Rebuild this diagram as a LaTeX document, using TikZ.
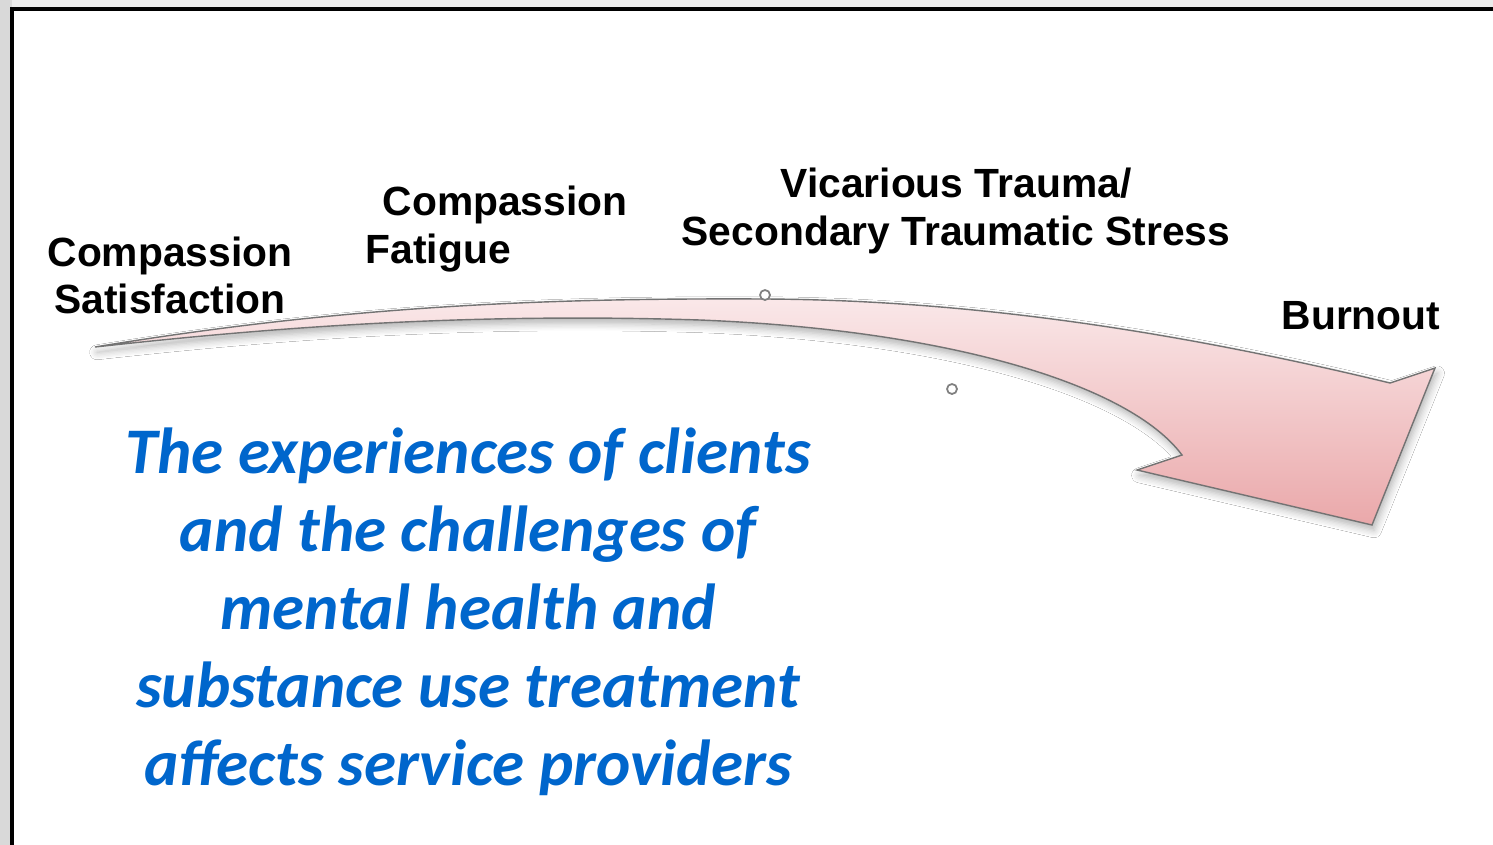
\documentclass[tikz,border=0pt]{standalone}
\usepackage{fontspec}
\setmainfont{Liberation Sans}
\newfontfamily\calibri{Carlito}
\usetikzlibrary{positioning, shadows.blur}

\definecolor{msgblue}{RGB}{0,102,204}
\definecolor{arrowtop}{RGB}{250,232,233}
\definecolor{arrowbot}{RGB}{234,168,170}

\begin{document}
\begin{tikzpicture}[
    x=0.01cm, y=-0.01cm,
    stage/.style={font=\fontsize{11.6}{13.4}\selectfont\bfseries, align=center, inner sep=0pt},
    message/.style={font=\calibri\fontsize{18.5}{22.2}\selectfont\bfseries\itshape,
                    text=msgblue, align=center, inner sep=0pt},
    bigarrow/.style={draw=black!55, line width=0.4pt, top color=arrowtop, bottom color=arrowbot,
                     blur shadow={shadow xshift=0.6pt, shadow yshift=-1.5pt,
                                  shadow opacity=30, shadow blur steps=6}},
    handle/.style={circle, draw=black!50, fill=white, line width=0.5pt, inner sep=0pt, minimum size=0.1cm}
]
% --- Marco ---
\useasboundingbox (0,0) rectangle (1493,845);
\fill[black!15] (0,0) rectangle (1493,845);
\fill[black!8] (12,0) rectangle (1493,9);
\fill[white] (12,9) rectangle (1493,845);
\draw[line width=1pt] (12,845) -- (12,9) -- (1493,9);
% --- Flecha ---
\path[bigarrow] (95,347) .. controls (350,305) and (550,298) .. (765,299)
    .. controls (950,300) and (1150,325) .. (1390,383)
    -- (1435,368) -- (1372,525) -- (1137,470) -- (1182,455)
    .. controls (1130,385) and (950,330) .. (700,320)
    .. controls (450,312) and (250,330) .. cycle;
\node[handle] (h1) at (765,295) {};
\node[handle] (h2) at (952,389) {};
% --- Etapas ---
\node[stage] (satisf) at (170,275) {Compassion\\Satisfaction};
\node[stage, align=left, anchor=west] (fatigue) at (365,229) {\hspace*{0.17cm}Compassion\\Fatigue};
\node[stage] (trauma) at (956,211) {Vicarious Trauma/\\Secondary Traumatic Stress};
\node[stage] (burnout) at (1361,316) {Burnout};
% --- Mensaje ---
\node[message] (msg) at (468,612) {The experiences of clients\\and the challenges of\\mental health and\\substance use treatment\\affects service providers};
\end{tikzpicture}
\end{document}
